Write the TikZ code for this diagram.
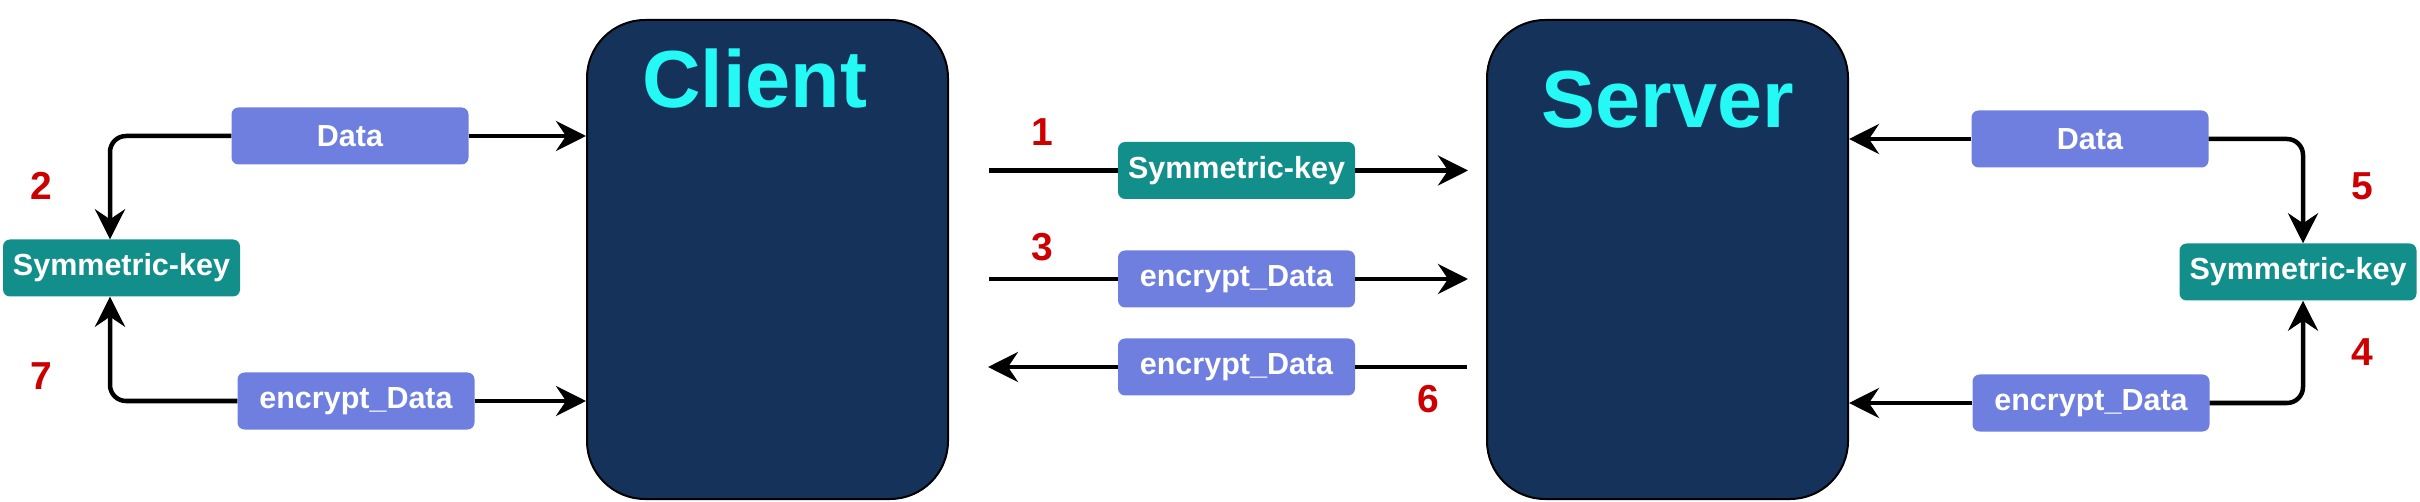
\documentclass[tikz,border=0pt]{standalone}
\usepackage{fontspec}
\setmainfont{Liberation Sans}
\usetikzlibrary{arrows.meta}
\definecolor{navy}{HTML}{15335A}
\definecolor{cyantxt}{HTML}{24F9F6}
\definecolor{databox}{HTML}{6F7FDF}
\definecolor{keybox}{HTML}{138F8B}
\definecolor{numred}{HTML}{CC0000}
\tikzset{
  bigbox/.style={draw=black, line width=2pt, fill=navy, rounded corners=58pt,
    minimum width=361pt, minimum height=479pt, inner sep=0pt},
  title/.style={text=cyantxt, font=\fontsize{81}{81}\selectfont\bfseries, inner sep=0pt, anchor=base},
  databx/.style={fill=databox, rounded corners=7pt, minimum width=237pt, minimum height=57pt,
    inner sep=0pt, text=white, font=\fontsize{30.5}{30.5}\selectfont\bfseries},
  keybx/.style={databx, fill=keybox},
  num/.style={text=numred, font=\fontsize{39}{39}\selectfont\bfseries, inner sep=0pt},
  arr/.style={line width=4.5pt, -{Stealth[length=30pt,width=30pt,inset=10pt]}},
  ln/.style={line width=4.5pt},
}
\begin{document}
\begin{tikzpicture}[x=1pt,y=-1pt]
\useasboundingbox (0,0) rectangle (2420,502);
% main boxes
\node[bigbox] (client) at (767.5,259.5) {};
\node[bigbox] (server) at (1667.5,259.5) {};
\node[title] (clientT) at (754.5,108) {Client};
\node[title] (serverT) at (1668,128) {Server};
% left side
\node[databx] (dataL) at (350,136) {Data};
\node[keybx] (symL) at (121.5,268) {Symmetric-key};
\node[databx] (encL) at (356,401) {encrypt\_Data};
\coordinate (kL) at (110,0);
% middle
\node[keybx] (symM) at (1236.5,170.5) {Symmetric-key};
\node[databx] (encM1) at (1236.5,279) {encrypt\_Data};
\node[databx] (encM2) at (1236.5,367) {encrypt\_Data};
\coordinate (s1) at (989,170.5);
\coordinate (e1) at (1468,170.5);
\coordinate (s3) at (989,279);
\coordinate (e3) at (1468,279);
\coordinate (s6) at (1467,367);
\coordinate (e6) at (988,367);
% right side
\node[databx] (dataR) at (2090,139) {Data};
\node[keybx] (symR) at (2298,272) {Symmetric-key};
\node[databx] (encR) at (2091,403) {encrypt\_Data};
\coordinate (kR) at (2303,0);
% connectors left
\draw[arr, rounded corners=16pt] (dataL.west) -| (kL |- symL.north);
\draw[arr, rounded corners=16pt] (encL.west) -| (kL |- symL.south);
\draw[arr] (dataL.east) -- (client.west |- dataL.east);
\draw[arr] (encL.east) -- (client.west |- encL.east);
% connectors middle
\draw[ln] (s1) -- (symM.west);
\draw[arr] (symM.east) -- (e1);
\draw[ln] (s3) -- (encM1.west);
\draw[arr] (encM1.east) -- (e3);
\draw[ln] (s6) -- (encM2.east);
\draw[arr] (encM2.west) -- (e6);
% connectors right
\draw[arr] (dataR.west) -- (server.east |- dataR.west);
\draw[arr] (encR.west) -- (server.east |- encR.west);
\draw[arr, rounded corners=16pt] (dataR.east) -| (kR |- symR.north);
\draw[arr, rounded corners=16pt] (encR.east) -| (kR |- symR.south);
% step numbers
\node[num] (n1) at (1042,132) {1};
\node[num] (n2) at (41,186) {2};
\node[num] (n3) at (1042,247.5) {3};
\node[num] (n4) at (2362,352) {4};
\node[num] (n5) at (2362,186) {5};
\node[num] (n6) at (1428,399) {6};
\node[num] (n7) at (41,376) {7};
\end{tikzpicture}
\end{document}
